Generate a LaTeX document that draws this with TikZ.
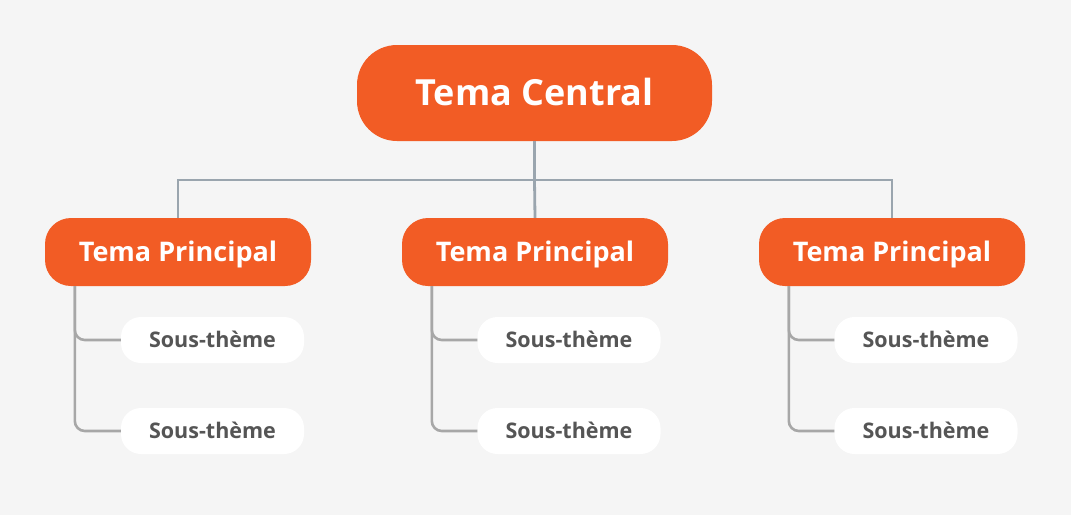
\documentclass[tikz,border=0pt]{standalone}
\usepackage{fontspec}
\setmainfont{Open Sans}
\definecolor{bgc}{HTML}{F5F5F5}
\definecolor{orng}{HTML}{F25C25}
\definecolor{trunkc}{HTML}{9AA5AE}
\definecolor{branchc}{HTML}{A7A7A7}
\definecolor{subtext}{HTML}{555555}
\tikzset{
  central/.style={fill=orng, text=white, rounded corners=40pt, minimum width=355pt, minimum height=96pt, inner sep=0pt, font=\bfseries\fontsize{36}{40}\selectfont, text height=25.7pt, text depth=0pt},
  principal/.style={fill=orng, text=white, rounded corners=26pt, minimum width=266pt, minimum height=68pt, inner sep=0pt, font=\bfseries\fontsize{27}{30}\selectfont, text height=19.3pt, text depth=0pt},
  subtheme/.style={fill=white, text=subtext, rounded corners=20pt, minimum width=183pt, minimum height=46pt, inner sep=0pt, font=\bfseries\fontsize{21.5}{24}\selectfont, text height=15.4pt, text depth=0pt},
  trunk/.style={draw=trunkc, line width=2.8pt},
  branch/.style={draw=branchc, line width=2.6pt, rounded corners=10pt},
}
\begin{document}
\begin{tikzpicture}[x=1pt,y=-1pt]
\fill[bgc] (0,0) rectangle (1071,515);
\useasboundingbox (0,0) rectangle (1071,515);
\coordinate (j) at (534.5,180);
\node[central] (c) at (534.5,93) {Tema Central};
\node[principal] (p1) at (178,252) {Tema Principal};
\node[principal] (p2) at (535,252) {Tema Principal};
\node[principal] (p3) at (892,252) {Tema Principal};
\node[subtheme] (s11) at (212.5,340) {Sous-thème};
\node[subtheme] (s12) at (212.5,431) {Sous-thème};
\node[subtheme] (s21) at (569,340) {Sous-thème};
\node[subtheme] (s22) at (569,431) {Sous-thème};
\node[subtheme] (s31) at (926,340) {Sous-thème};
\node[subtheme] (s32) at (926,431) {Sous-thème};
\draw[trunk] (c.south) -- (j);
\draw[trunk] (j) -| (p1.north);
\draw[trunk] (j) -| (p3.north);
\draw[trunk] (j) -- (p2.north);
\draw[branch] ([xshift=30pt]p1.south west) |- (s11.west);
\draw[branch] ([xshift=30pt]p1.south west) |- (s12.west);
\draw[branch] ([xshift=30pt]p2.south west) |- (s21.west);
\draw[branch] ([xshift=30pt]p2.south west) |- (s22.west);
\draw[branch] ([xshift=30pt]p3.south west) |- (s31.west);
\draw[branch] ([xshift=30pt]p3.south west) |- (s32.west);
\end{tikzpicture}
\end{document}
